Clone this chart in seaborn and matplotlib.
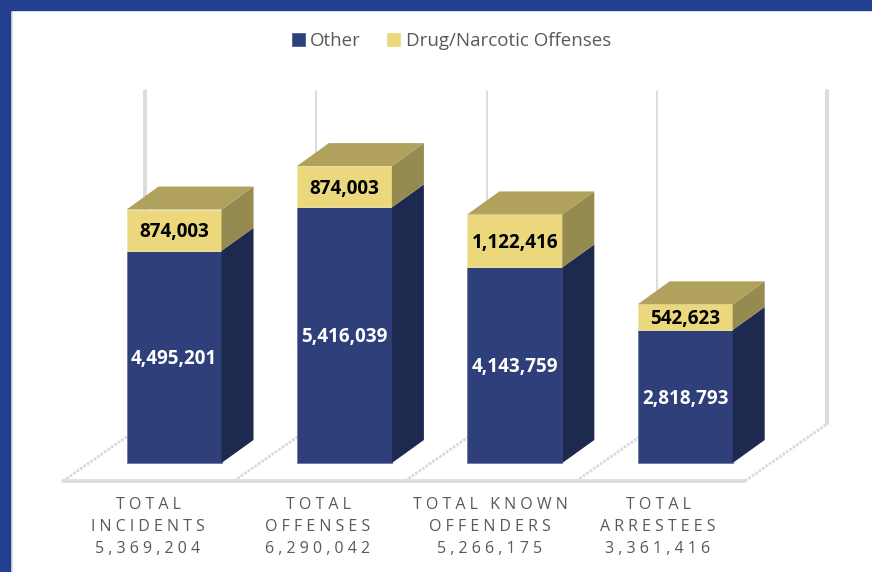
import matplotlib
matplotlib.use("Agg")
import matplotlib.pyplot as plt
from matplotlib.patches import Polygon, Rectangle, Patch
import numpy as np
import pandas as pd
import seaborn as sns

# Chart values
name_lines = [["TOTAL", "INCIDENTS"], ["TOTAL", "OFFENSES"],
              ["TOTAL KNOWN", "OFFENDERS"], ["TOTAL", "ARRESTEES"]]
categories = [" ".join(n) for n in name_lines]
other = [4495201, 5416039, 4143759, 2818793]
drug = [874003, 874003, 1122416, 542623]
series_names = ["Other", "Drug/Narcotic Offenses"]

# Palette
NAVY, NAVY_SIDE = "#2F3F79", "#1E294F"
GOLD, GOLD_SIDE, GOLD_TOP = "#EBD77C", "#958A4F", "#B0A25C"
WALL, TEXT_GREY, BAND = "#DCDCDC", "#595959", "#233F8F"

W, H = 872, 572
BASE_PX, STEP_PX, FIRST_PX = 463, 170.4, 174
PX_PER_UNIT = 47.2e-6
BAR_W = 95 / STEP_PX
DX, DY = 32 / STEP_PX, 23 / PX_PER_UNIT

sns.set_theme(style="white")
plt.rcParams["font.family"] = ["Open Sans", "DejaVu Sans"]

fig = plt.figure(figsize=(W / 100, H / 100), dpi=100, facecolor="white")
ax = fig.add_axes([0, 0, 1, 1])


def px(x, y):
    """Convert a pixel position (origin top-left) to data coordinates."""
    return (x - FIRST_PX) / STEP_PX, (BASE_PX - y) / PX_PER_UNIT


def px_line(x0, y0, x1, y1, **kw):
    a, b = px(x0, y0), px(x1, y1)
    ax.plot([a[0], b[0]], [a[1], b[1]], **kw)


# Page frame bands
fig.patches.append(Rectangle((0, 0), 10 / W, 1, transform=fig.transFigure, color=BAND, zorder=5))
fig.patches.append(Rectangle((0, 1 - 10 / H), 1, 10 / H, transform=fig.transFigure, color=BAND, zorder=5))
fig.patches.append(Rectangle((10 / W, 0), 1.5 / W, 1 - 10 / H, transform=fig.transFigure, color="#E3E3E3", zorder=4))

# Stacked front faces
frame = pd.DataFrame({"category": categories, "other": other, "drug": drug})
sns.barplot(data=frame, x="category", y="other", color=NAVY, saturation=1, width=BAR_W,
            ax=ax, edgecolor="#6F7AA3", linewidth=0.6, zorder=3)
sns.barplot(data=frame, x="category", y="drug", bottom=frame["other"], color=GOLD, saturation=1,
            width=BAR_W, ax=ax, edgecolor="#F2E6AE", linewidth=0.6, zorder=3)

# seaborn resets the limits, so the scale is fixed once the bars exist
ax.set_xlim(-FIRST_PX / STEP_PX, (W - FIRST_PX) / STEP_PX)
ax.set_ylim(-(H - BASE_PX) / PX_PER_UNIT, BASE_PX / PX_PER_UNIT)

# Back wall gridlines and perspective floor
for wx, lw in zip([145, 316, 487, 657, 827], [2.8, 1.4, 1.4, 1.4, 3.0]):
    bottom = 423 if wx == 827 else 440
    px_line(wx, 91, wx, bottom, color=WALL, lw=lw, zorder=1, solid_capstyle="round")
for fx in [63, 234, 405, 576, 745]:
    px_line(fx, 481, fx + 82, 424, color="#DADADA", lw=2.0, ls=(0, (1, 0.5)), zorder=1)
px_line(63, 481, 745, 481, color=WALL, lw=2.6, zorder=1)

# Extruded side and top faces, derived from the stack heights
for i, (o, d) in enumerate(zip(other, drug)):
    right = i + BAR_W / 2
    left = i - BAR_W / 2
    total = o + d
    ax.add_patch(Polygon([(right, 0), (right + DX, DY), (right + DX, o + DY), (right, o)],
                         fc=NAVY_SIDE, ec="none", zorder=3))
    ax.add_patch(Polygon([(right, o), (right + DX, o + DY), (right + DX, total + DY), (right, total)],
                         fc=GOLD_SIDE, ec="none", zorder=3))
    ax.add_patch(Polygon([(left, total), (left + DX, total + DY), (right + DX, total + DY), (right, total)],
                         fc=GOLD_TOP, ec="none", zorder=3))

# Value labels on the bars, nudged to sit on the optical centre of each face
value_labels = ax.bar_label(ax.containers[0], labels=[f"{v:,}" for v in other], label_type="center",
                            color="white", fontsize=13.6, fontweight="bold", zorder=6)
value_labels += ax.bar_label(ax.containers[1], labels=[f"{v:,}" for v in drug], label_type="center",
                             color="black", fontsize=13.6, fontweight="bold", zorder=6)
for lbl in value_labels:
    lbl.xyann = (0, -1.5)


def spaced(s):
    return " ".join(s)


# Category captions with totals underneath
for i, (lines, cx) in enumerate(zip(name_lines, [148, 318, 490, 658])):
    rows = lines + [f"{other[i] + drug[i]:,}"]
    for row, y in zip(rows, [505, 527, 549]):
        tx, ty = px(cx, y)
        ax.text(tx, ty, spaced(row), ha="center", va="center", color=TEXT_GREY, fontsize=11.5)

ax.set_axis_off()

handles = [Patch(fc=NAVY, label=series_names[0]), Patch(fc=GOLD, label=series_names[1])]
fig.legend(handles=handles, loc="center", bbox_to_anchor=(451 / W, 1 - 41 / H), ncol=2, frameon=False,
           fontsize=13.5, labelcolor=TEXT_GREY, handlelength=0.8, handleheight=0.8,
           handletextpad=0.22, columnspacing=1.35)

fig.savefig("out.png", dpi=100)
